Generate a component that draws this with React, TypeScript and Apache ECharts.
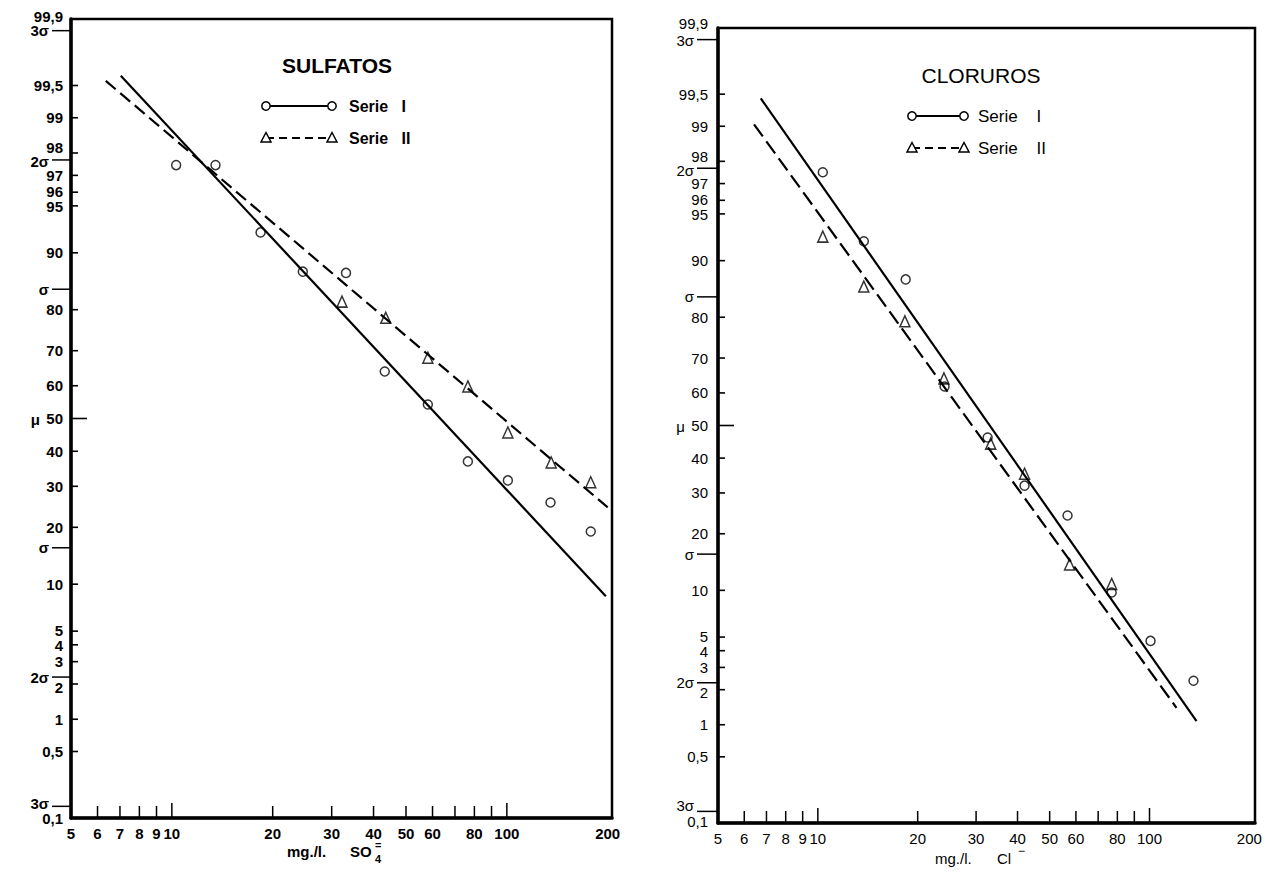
import React, { useEffect, useRef } from "react";
import * as echarts from "echarts";

// ---------- DATA ----------
const yTickPercents = [0.1, 0.5, 1, 2, 3, 4, 5, 10, 20, 30, 40, 50, 60, 70, 80, 90, 95, 96, 97, 98, 99, 99.5, 99.9];
const yTickLabels = ["0,1", "0,5", "1", "2", "3", "4", "5", "10", "20", "30", "40", "50", "60", "70", "80", "90", "95", "96", "97", "98", "99", "99,5", "99,9"];
const sigmaValues = [-3, -2, -1, 0, 1, 2, 3];
const sigmaLabels = ["3σ", "2σ", "σ", "μ", "σ", "2σ", "3σ"];
const xTickValues = [5, 6, 7, 8, 9, 10, 20, 30, 40, 50, 60, 70, 80, 90, 100];
const xLabelValues = [5, 6, 7, 8, 9, 10, 20, 30, 40, 50, 60, 80, 100, 200];

// SULFATOS
const sulfSerieIX = [10.3, 13.5, 18.4, 24.6, 33.1, 43.2, 58.1, 76.5, 100.7, 135, 178];
const sulfSerieIP = [97.5, 97.5, 92.5, 87.2, 87.0, 64.2, 54.3, 37.0, 31.6, 25.8, 19.1];
const sulfSerieIIX = [32.2, 43.5, 58.1, 76.5, 100.7, 135.6, 178];
const sulfSerieIIP = [81.7, 78.2, 68.1, 59.8, 45.7, 36.7, 31.1];
const sulfLineIX = [7.04, 197.5];
const sulfLineIP = [99.6, 8.46];
const sulfLineIIX = [6.35, 200];
const sulfLineIIP = [99.55, 24.6];

// CLORUROS
const cloSerieIX = [10.35, 13.76, 18.4, 24.1, 32.5, 42.0, 56.6, 76.9, 100.7, 135.7];
const cloSerieIP = [97.55, 92.4, 87.2, 61.9, 46.3, 32.0, 24.2, 9.7, 4.7, 2.36];
const cloSerieIIX = [10.35, 13.76, 18.3, 24.0, 33.2, 42.0, 57.4, 76.9];
const cloSerieIIP = [92.9, 86.0, 79.1, 64.3, 44.4, 35.4, 14.0, 10.9];
const cloLineIX = [6.73, 138.6];
const cloLineIP = [99.45, 1.08];
const cloLineIIX = [6.42, 120.6];
const cloLineIIP = [99.04, 1.41];

// ---------- HELPERS ----------
function probit(p: number): number {
  const a = [-3.969683028665376e1, 2.209460984245205e2, -2.759285104469687e2, 1.38357751867269e2, -3.066479806614716e1, 2.506628277459239];
  const b = [-5.447609879822406e1, 1.615858368580409e2, -1.556989798598866e2, 6.680131188771972e1, -1.328068155288572e1];
  const c = [-7.784894002430293e-3, -3.223964580411365e-1, -2.400758277161838, -2.549732539343734, 4.374664141464968, 2.938163982698783];
  const d = [7.784695709041462e-3, 3.224671290700398e-1, 2.445134137142996, 3.754408160340024];
  const plow = 0.02425;
  const phigh = 1 - plow;
  if (p < plow) {
    const q = Math.sqrt(-2 * Math.log(p));
    return (((((c[0] * q + c[1]) * q + c[2]) * q + c[3]) * q + c[4]) * q + c[5]) / ((((d[0] * q + d[1]) * q + d[2]) * q + d[3]) * q + 1);
  }
  if (p <= phigh) {
    const q = p - 0.5;
    const r = q * q;
    return ((((((a[0] * r + a[1]) * r + a[2]) * r + a[3]) * r + a[4]) * r + a[5]) * q) / (((((b[0] * r + b[1]) * r + b[2]) * r + b[3]) * r + b[4]) * r + 1);
  }
  const q = Math.sqrt(-2 * Math.log(1 - p));
  return -(((((c[0] * q + c[1]) * q + c[2]) * q + c[3]) * q + c[4]) * q + c[5]) / ((((d[0] * q + d[1]) * q + d[2]) * q + d[3]) * q + 1);
}

const Z_MIN = probit(0.001);
const Z_MAX = probit(0.999);
const X_MIN = 5;
const FONT = '"Liberation Sans", Arial, sans-serif';

const pairs = (xs: number[], ps: number[]) => xs.map((x, i) => [x, probit(ps[i] / 100)]);

function panelSeries(i: number, weight: string, cfg: any) {
  const lineW = 2.2;
  const txt = (text: string, x: number, y: number, align: string, size = 15) => ({
    type: "text",
    style: {
      text, x, y, align, verticalAlign: "middle", textAlign: align, textVerticalAlign: "middle",
      fill: "#000", fontSize: size, fontFamily: FONT, fontWeight: weight,
    },
  });
  const yTickDy: Record<string, number> = { "98": -5, "2": 3, "96": -1, "95": 1, "5": -1, "4": 1 };
  return [
    {
      type: "line", name: "Serie I fit", xAxisIndex: i, yAxisIndex: i,
      data: pairs(cfg.lineIX, cfg.lineIP), showSymbol: false, z: 2,
      lineStyle: { color: "#000", width: lineW, type: "solid" },
    },
    {
      type: "line", name: "Serie II fit", xAxisIndex: i, yAxisIndex: i,
      data: pairs(cfg.lineIIX, cfg.lineIIP), showSymbol: false, z: 2,
      lineStyle: { color: "#000", width: lineW, type: cfg.dash },
    },
    {
      type: "scatter", name: "Serie I", xAxisIndex: i, yAxisIndex: i,
      data: pairs(cfg.sIX, cfg.sIP), symbol: "circle", symbolSize: 9, z: 3,
      itemStyle: { color: "rgba(255,255,255,0)", borderColor: "#000", borderWidth: 1.5 },
    },
    {
      type: "scatter", name: "Serie II", xAxisIndex: i, yAxisIndex: i,
      data: pairs(cfg.sIIX, cfg.sIIP), symbol: "triangle", symbolSize: [10, 11], z: 3,
      itemStyle: { color: "rgba(255,255,255,0)", borderColor: "#000", borderWidth: 1.5 },
    },
    {
      type: "custom", name: "yTicks", xAxisIndex: i, yAxisIndex: i, clip: false, silent: true, z: 5,
      data: yTickPercents.map((p, k) => [X_MIN, probit(p / 100), k]),
      renderItem: (params: any, api: any) => {
        const k = api.value(2);
        const pt = api.coord([api.value(0), api.value(1)]);
        const x0 = pt[0];
        const y = pt[1];
        const pct = yTickPercents[k];
        const lab = yTickLabels[k];
        const children: any[] = [];
        if (pct !== 0.1 && pct !== 99.9) {
          children.push({
            type: "line",
            shape: { x1: x0, y1: y, x2: x0 + (pct === 50 ? 16 : 7), y2: y },
            style: { stroke: "#000", lineWidth: 1.6 },
          });
        }
        let dy = yTickDy[lab] || 0;
        if (pct === 99.9) dy = cfg.topDy;
        if (pct === 0.1) dy = cfg.botDy;
        children.push(txt(lab, x0 - cfg.labelGap, y + dy, "right"));
        return { type: "group", children };
      },
    },
    {
      type: "custom", name: "sigma", xAxisIndex: i, yAxisIndex: i, clip: false, silent: true, z: 5,
      data: sigmaValues.map((s, k) => [X_MIN, s, k]),
      renderItem: (params: any, api: any) => {
        const k = api.value(2);
        const s = sigmaValues[k];
        const pt = api.coord([api.value(0), api.value(1)]);
        const x0 = pt[0];
        const y = pt[1];
        const children: any[] = [];
        if (s === 0) {
          children.push(txt(sigmaLabels[k], x0 - cfg.muGap, y + 1, "right"));
        } else {
          children.push({
            type: "line",
            shape: { x1: x0 - cfg.sigLine, y1: y, x2: x0, y2: y },
            style: { stroke: "#000", lineWidth: 1.5 },
          });
          let dy = 0;
          if (s === 3) dy = cfg.sig3TopDy;
          if (s === -3) dy = cfg.sig3BotDy;
          if (s === 2) dy = 2;
          children.push(txt(sigmaLabels[k], x0 - cfg.sigLine - 3, y + dy, "right"));
        }
        return { type: "group", children };
      },
    },
    {
      type: "custom", name: "xTicks", xAxisIndex: i, yAxisIndex: i, clip: false, silent: true, z: 5,
      data: xTickValues.map((v) => [v, Z_MIN]),
      renderItem: (params: any, api: any) => {
        const v = api.value(0);
        const pt = api.coord([v, api.value(1)]);
        const len = v === 10 || v === 100 ? 15 : 12;
        return {
          type: "line",
          shape: { x1: pt[0], y1: pt[1], x2: pt[0], y2: pt[1] - len },
          style: { stroke: "#000", lineWidth: 1.5 },
        };
      },
    },
    {
      type: "custom", name: "xLabels", xAxisIndex: i, yAxisIndex: i, clip: false, silent: true, z: 5,
      data: xLabelValues.map((v) => [v, Z_MIN]),
      renderItem: (params: any, api: any) => {
        const v = api.value(0);
        const pt = api.coord([v, api.value(1)]);
        return txt(String(v), pt[0], pt[1] + cfg.xLabDy, "center");
      },
    },
  ];
}

function legendGraphic(x1: number, x2: number, yI: number, yII: number, tx: number, weight: string, size: number, gap: string) {
  const tri = (cx: number, cy: number) => ({
    type: "polygon",
    shape: { points: [[cx, cy - 5.5], [cx + 5, cy + 4], [cx - 5, cy + 4]] },
    style: { fill: "#fff", stroke: "#000", lineWidth: 1.5 },
  });
  const circ = (cx: number, cy: number) => ({
    type: "circle",
    shape: { cx, cy, r: 4.2 },
    style: { fill: "#fff", stroke: "#000", lineWidth: 1.5 },
  });
  const label = (text: string, y: number) => ({
    type: "text",
    style: {
      text, x: tx, y, align: "left", verticalAlign: "middle", textAlign: "left", textVerticalAlign: "middle",
      fill: "#000", fontSize: size, fontFamily: FONT, fontWeight: weight,
    },
  });
  return [
    { type: "line", shape: { x1, y1: yI, x2, y2: yI }, style: { stroke: "#000", lineWidth: 2 } },
    circ(x1, yI),
    circ(x2, yI),
    label("Serie" + gap + "I", yI),
    { type: "line", shape: { x1, y1: yII, x2, y2: yII }, style: { stroke: "#000", lineWidth: 2, lineDash: [8, 5] } },
    tri(x1, yII),
    tri(x2, yII),
    label("Serie" + gap + "II", yII),
  ];
}

function text(t: string, x: number, y: number, size: number, weight: string, align = "left") {
  return {
    type: "text",
    style: {
      text: t, x, y, align, verticalAlign: "middle", textAlign: align, textVerticalAlign: "middle",
      fill: "#000", fontSize: size, fontFamily: FONT, fontWeight: weight,
    },
  };
}

export default function App() {
  const ref = useRef<HTMLDivElement>(null);
  useEffect(() => {
    if (!ref.current) return;
    const chart = echarts.init(ref.current, undefined, { renderer: "svg" });
    const axisLine = { show: true, onZero: false, lineStyle: { color: "#000", width: 3.5 } };
    const hidden = { axisTick: { show: false }, axisLabel: { show: false }, splitLine: { show: false } };
    const leftCfg = {
      lineIX: sulfLineIX, lineIP: sulfLineIP, lineIIX: sulfLineIIX, lineIIP: sulfLineIIP,
      sIX: sulfSerieIX, sIP: sulfSerieIP, sIIX: sulfSerieIIX, sIIP: sulfSerieIIP,
      dash: [13, 6], labelGap: 8, muGap: 31, sigLine: 19, topDy: -3, botDy: 0, sig3TopDy: 0, sig3BotDy: -3, xLabDy: 15,
    };
    const rightCfg = {
      lineIX: cloLineIX, lineIP: cloLineIP, lineIIX: cloLineIIX, lineIIP: cloLineIIP,
      sIX: cloSerieIX, sIP: cloSerieIP, sIIX: cloSerieIIX, sIIP: cloSerieIIP,
      dash: [15, 6], labelGap: 10, muGap: 33, sigLine: 21, topDy: -5, botDy: -2, sig3TopDy: 1, sig3BotDy: -6, xLabDy: 15,
    };
    chart.setOption({
      animation: false,
      backgroundColor: "#fff",
      grid: [
        { left: 71, top: 19, width: 541, height: 799, show: true, borderColor: "#000", borderWidth: 2.5, backgroundColor: "transparent" },
        { left: 718, top: 28, width: 537, height: 795, show: true, borderColor: "#000", borderWidth: 2.5, backgroundColor: "transparent" },
      ],
      xAxis: [
        { type: "log", logBase: 10, min: X_MIN, max: 206, gridIndex: 0, axisLine, ...hidden },
        { type: "log", logBase: 10, min: X_MIN, max: 208, gridIndex: 1, axisLine, ...hidden },
      ],
      yAxis: [
        { type: "value", min: Z_MIN, max: Z_MAX, gridIndex: 0, axisLine, ...hidden },
        { type: "value", min: Z_MIN, max: Z_MAX, gridIndex: 1, axisLine, ...hidden },
      ],
      series: [...panelSeries(0, "bold", leftCfg), ...panelSeries(1, "normal", rightCfg)],
      graphic: [
        text("SULFATOS", 337, 65, 21, "bold", "center"),
        ...legendGraphic(266, 332, 106, 138, 349, "bold", 16, "   "),
        text("mg./l.", 287, 851, 15, "bold"),
        text("SO", 350, 851, 15, "bold"),
        text("=", 375, 845, 11, "bold"),
        text("4", 375, 859, 11, "bold"),
        text("CLORUROS", 981, 75, 21, "normal", "center"),
        ...legendGraphic(912, 964, 116, 148, 978, "normal", 17, "    "),
        text("mg./l.", 935, 858, 15, "normal"),
        text("Cl", 997, 858, 15, "normal"),
        text("−", 1018, 851, 12, "normal"),
      ],
    });
    return () => chart.dispose();
  }, []);
  return <div ref={ref} style={{ position: "fixed", left: 0, top: 0, width: 1288, height: 874 }} />;
}
